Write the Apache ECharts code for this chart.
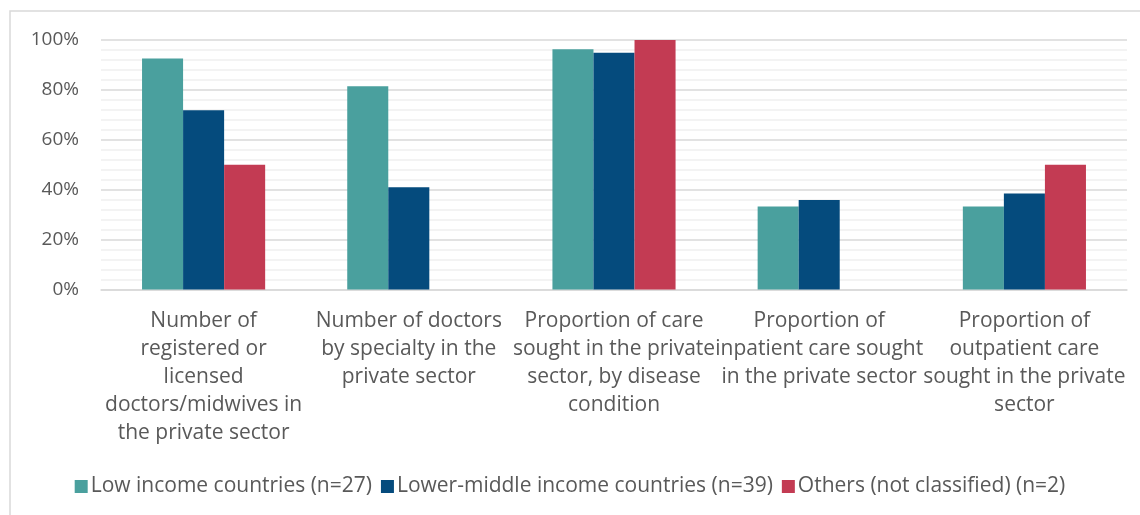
<!DOCTYPE html>
<html>
<head>
<meta charset="utf-8">
<script src="https://cdn.jsdelivr.net/npm/echarts@6/dist/echarts.min.js"></script>
<style>
  html, body { margin: 0; padding: 0; background: #ffffff; }
  #chart { width: 1140px; height: 515px; }
</style>
</head>
<body>
<div id="chart"></div>
<script>
// Indicator categories (line breaks as laid out under each group)
const categories = [
  'Number of\nregistered or\nlicensed\ndoctors/midwives in\nthe private sector',
  'Number of doctors\nby specialty in the\nprivate sector',
  'Proportion of care\nsought in the private\nsector, by disease\ncondition',
  'Proportion of\ninpatient care sought\nin the private sector',
  'Proportion of\noutpatient care\nsought in the private\nsector'
];

// Share of countries reporting each indicator (%)
const lowIncome = [92.6, 81.5, 96.3, 33.3, 33.3];
const lowerMiddleIncome = [71.8, 41.0, 94.9, 35.9, 38.5];
const others = [50, 0, 100, 0, 50];

const seriesNames = [
  'Low income countries (n=27)',
  'Lower-middle income countries (n=39)',
  'Others (not classified) (n=2)'
];
const yTicks = { min: 0, max: 100, interval: 20 };

const FONT = '"Open Sans", Lato, sans-serif';
const TEXT = '#595959';
const COLORS = ['#4aa09e', '#054b7d', '#c33b53'];

const chart = echarts.init(document.getElementById('chart'), null, { renderer: 'canvas' });

const seriesData = [lowIncome, lowerMiddleIncome, others];

chart.setOption({
  animation: false,
  backgroundColor: '#ffffff',
  color: COLORS,
  graphic: [{
    type: 'rect',
    shape: { x: 10, y: 11, width: 1200, height: 600 },
    style: { fill: 'none', stroke: '#d9d9d9', lineWidth: 1.5 },
    silent: true,
    z: -10
  }],
  grid: { left: 101, right: 13, top: 40, bottom: 225.5, containLabel: false },
  legend: {
    bottom: 13,
    left: 'center',
    itemWidth: 13,
    itemHeight: 13,
    itemGap: 9,
    icon: 'rect',
    textStyle: { fontFamily: FONT, fontSize: 21, color: TEXT, padding: [0, 0, 0, -2] },
    data: seriesNames
  },
  xAxis: {
    type: 'category',
    data: categories,
    axisLine: { show: true, lineStyle: { color: '#d9d9d9', width: 1.5 } },
    axisTick: { show: false },
    axisLabel: {
      interval: 0,
      margin: 18,
      fontFamily: FONT,
      fontSize: 21,
      lineHeight: 28,
      color: TEXT,
      align: 'center'
    }
  },
  yAxis: {
    type: 'value',
    min: yTicks.min,
    max: yTicks.max,
    interval: yTicks.interval,
    axisLine: { show: false },
    axisTick: { show: false },
    axisLabel: {
      formatter: '{value}%',
      margin: 22,
      fontFamily: FONT,
      fontSize: 19,
      color: TEXT
    },
    splitLine: { show: true, lineStyle: { color: '#d9d9d9', width: 1.5 } },
    minorTick: { show: false, splitNumber: 5 },
    minorSplitLine: { show: true, lineStyle: { color: '#f0f0f0', width: 1.5 } }
  },
  series: seriesData.map((vals, i) => ({
    name: seriesNames[i],
    type: 'bar',
    data: vals,
    barGap: '0%',
    barCategoryGap: '40%',
    itemStyle: { color: COLORS[i] }
  }))
});
</script>
</body>
</html>
